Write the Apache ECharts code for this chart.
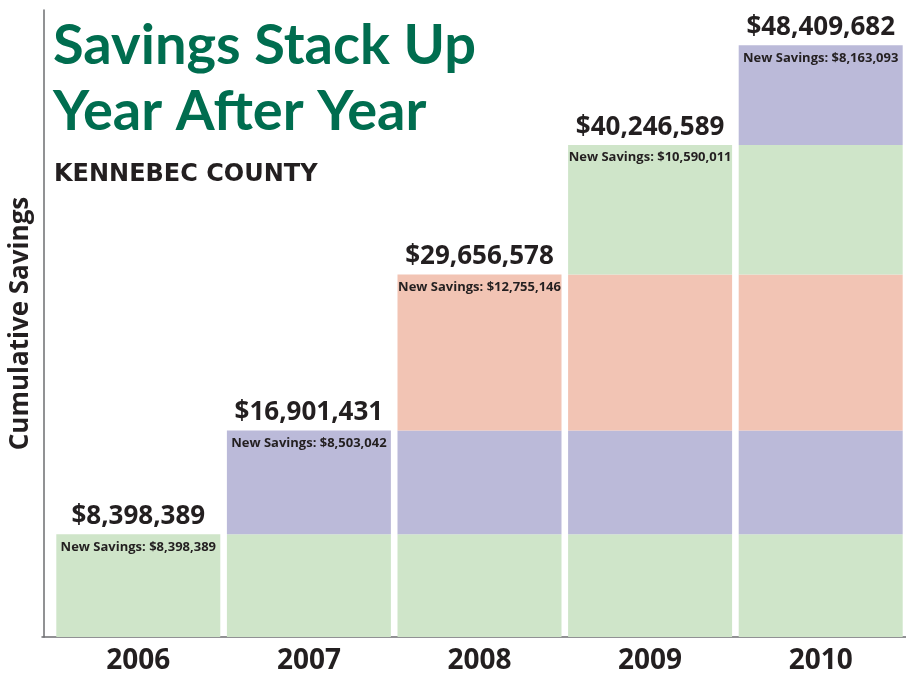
<!DOCTYPE html>
<html>
<head>
<meta charset="utf-8">
<script src="https://cdn.jsdelivr.net/npm/echarts@6/dist/echarts.min.js"></script>
<style>
  html, body { margin: 0; padding: 0; background: #fff; }
  #chart { width: 906px; height: 675px; }
</style>
</head>
<body>
<div id="chart"></div>
<script>
// years on the x axis
const years = ['2006', '2007', '2008', '2009', '2010'];
// new savings added each year (one stacked layer per year)
const newSavings = [8398389, 8503042, 12755146, 10590011, 8163093];
// cumulative totals as printed above each bar
const totals = [8398389, 16901431, 29656578, 40246589, 48409682];
const layerColors = ['#cfe5c9', '#bbbad9', '#f2c4b4', '#cfe5c9', '#bbbad9'];

const font = '"Open Sans", sans-serif';
const titleFont = 'Lato, "Open Sans", sans-serif';
const ink = '#231f20';
const axisGrey = '#6d6e71';

function money(v) {
    return '$' + v.toLocaleString('en-US');
}

// layer i exists from year i onward
let series = [];
for (let i = 0; i < years.length; i++) {
    let d = years.map((y, j) => j >= i ? newSavings[i] : '-');
    series.push({
        type: 'bar',
        name: years[i],
        stack: 'total',
        data: d,
        barWidth: 164,
        itemStyle: {color: layerColors[i]},
        label: {
            show: true,
            position: 'insideTop',
            distance: 6,
            fontFamily: font,
            fontWeight: 'bold',
            fontSize: 13,
            color: ink,
            formatter: p => p.dataIndex === i ? 'New Savings: ' + money(newSavings[i]) : ''
        },
        emphasis: {disabled: true}
    });
}
// zero-height cap that carries the total label
series.push({
    type: 'bar',
    stack: 'total',
    data: years.map(() => 0),
    barWidth: 164,
    itemStyle: {color: 'transparent'},
    label: {
        show: true,
        position: 'top',
        distance: 5,
        fontFamily: font,
        fontWeight: 'bold',
        fontSize: 26,
        color: ink,
        formatter: p => money(totals[p.dataIndex])
    },
    emphasis: {disabled: true}
});

echarts.init(document.getElementById('chart')).setOption({
    animation: false,
    title: [{
        text: 'Savings Stack Up\nYear After Year',
        left: 48,
        top: 8,
        textStyle: {
            fontFamily: titleFont,
            fontWeight: 'bold',
            fontSize: 56,
            lineHeight: 66,
            color: '#006d4f'
        }
    }, {
        text: 'KENNEBEC COUNTY',
        left: 49,
        top: 158,
        textStyle: {
            fontFamily: '"DejaVu Sans", sans-serif',
            fontWeight: 'bold',
            fontSize: 24,
            color: ink
        }
    }],
    grid: [
        {left: 51, right: -6, top: 10, bottom: 38},
        // only used to draw the baseline from the y axis to the right edge
        {left: 42, right: 0, top: 10, bottom: 38}
    ],
    xAxis: [{
        type: 'category',
        data: years,
        gridIndex: 0,
        axisLine: {show: false},
        axisTick: {show: false},
        axisLabel: {
            margin: 10,
            fontFamily: font,
            fontWeight: 'bold',
            fontSize: 28,
            color: ink
        }
    }, {
        type: 'category',
        data: years,
        gridIndex: 1,
        axisLine: {lineStyle: {color: axisGrey, width: 1.5}},
        axisTick: {show: false},
        axisLabel: {show: false}
    }],
    yAxis: [{
        type: 'value',
        gridIndex: 0,
        min: 0,
        max: 51300000,
        offset: 9,
        name: 'Cumulative Savings',
        nameLocation: 'middle',
        nameGap: 10,
        nameRotate: 90,
        nameTextStyle: {
            fontFamily: font,
            fontWeight: 'bold',
            fontSize: 26,
            color: ink
        },
        axisLine: {show: true, lineStyle: {color: axisGrey, width: 1.5}},
        axisTick: {show: false},
        axisLabel: {show: false},
        splitLine: {show: false}
    }, {
        type: 'value',
        gridIndex: 1,
        show: false
    }],
    series: series
});
</script>
</body>
</html>
